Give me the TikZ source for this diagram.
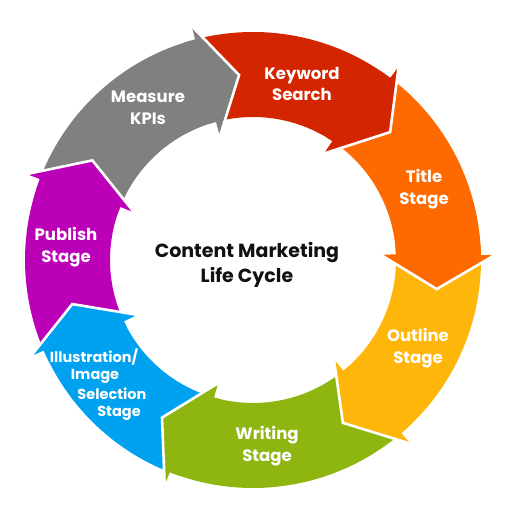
\documentclass[tikz,border=0pt]{standalone}
\usepackage{fontspec}
\setmainfont{Poppins}
\definecolor{cgray}{RGB}{128,128,128}
\definecolor{cred}{RGB}{211,37,0}
\definecolor{corange}{RGB}{255,106,0}
\definecolor{cyellow}{RGB}{255,182,11}
\definecolor{cgreen}{RGB}{143,181,16}
\definecolor{cblue}{RGB}{0,162,240}
\definecolor{cpurple}{RGB}{187,0,184}
\definecolor{ctext}{RGB}{17,17,17}
\newcommand\segbody[5]{\fill[#1] (#2:228) arc[start angle=#2,end angle=#3,radius=228] -- (#5:143) arc[start angle=#5,end angle=#4,radius=143] -- cycle;}
\newcommand\seghead[5]{%
  \fill[#1] (#2:242) -- (#4:#5) -- (#3:128) -- (#3:143) -- ({#3+3}:143) -- ({#2+3}:228) -- (#2:228) -- cycle;
  \draw[sepline] (#2:242) -- (#4:#5) -- (#3:128);}
\begin{document}
\begin{tikzpicture}[x=1pt,y=1pt,
  lbl/.style={text=white,font=\bfseries\fontsize{16.5}{21.5}\selectfont,align=center,inner sep=0pt},
  slbl/.style={text=white,font=\bfseries\fontsize{14.5}{18}\selectfont,inner sep=0pt},
  ctr/.style={text=ctext,font=\bfseries\fontsize{19}{25}\selectfont,align=center,inner sep=0pt},
  sepline/.style={draw=white,line width=2.6pt,line join=miter}]
\useasboundingbox (0,0) rectangle (512,505);
\begin{scope}[shift={(253,245)}]
\segbody{cgray}{159.2}{104.7}{158.2}{105}
\segbody{cred}{104.7}{53}{105}{56.3}
\segbody{corange}{53}{1.2}{56.3}{2.3}
\segbody{cyellow}{1.2}{-49.4}{2.3}{-50.8}
\segbody{cgreen}{-49.4}{-111.4}{-50.8}{-105.8}
\segbody{cblue}{-111.4}{-156.6}{-105.8}{-154.6}
\segbody{cpurple}{203.4}{159.2}{205.4}{158.2}
\seghead{cgray}{104.7}{105}{94.3}{185.5}
\seghead{cred}{53}{56.3}{43}{187.5}
\seghead{corange}{1.2}{2.3}{-9}{186}
\seghead{cyellow}{-49.4}{-50.8}{-61.1}{186}
\seghead{cgreen}{-111.4}{-105.8}{-120}{182}
\seghead{cblue}{-156.6}{-154.6}{-166.3}{186}
\seghead{cpurple}{159.2}{158.2}{148.2}{189}
\end{scope}
\node[lbl] (measure) at (148,397) {Measure\\KPIs};
\node[lbl] (keyword) at (302,421) {Keyword\\Search};
\node[lbl] (title) at (424,316) {Title\\Stage};
\node[lbl] (outline) at (418,157) {Outline\\Stage};
\node[lbl] (writing) at (267,59) {Writing\\Stage};
\node[slbl] (ill1) at (94,148) {Illustration/};
\node[slbl] (ill2) at (95,129) {Image};
\node[slbl] (ill3) at (112,111) {Selection};
\node[slbl] (ill4) at (119,92) {Stage};
\node[lbl] (publish) at (66,258) {Publish\\Stage};
\node[ctr] (center) at (247,240) {Content Marketing\\Life Cycle};
\end{tikzpicture}
\end{document}
